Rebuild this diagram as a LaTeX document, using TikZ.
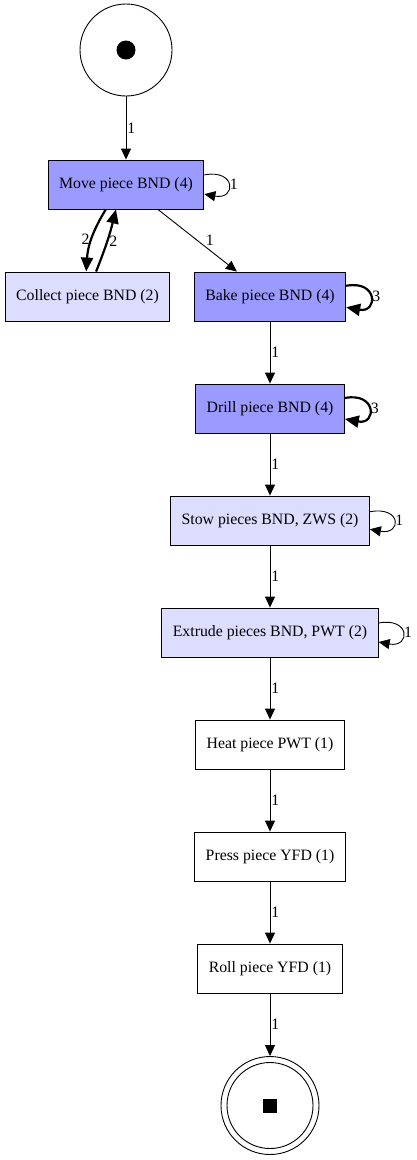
\documentclass[tikz,border=0pt]{standalone}
\usepackage{fontspec}
\setmainfont{Liberation Serif}
\usepackage{tikz}
\usetikzlibrary{arrows.meta,positioning}
\definecolor{freqhigh}{RGB}{155,155,255}
\definecolor{freqlow}{RGB}{221,221,255}

\begin{document}
\begin{tikzpicture}[
  x=1pt,y=1pt,
  font=\fontsize{15.8}{18}\selectfont,
  tbox/.style={draw,rectangle,line width=0.9pt,minimum height=49pt,inner xsep=11pt,inner ysep=0pt},
  arr/.style={-{Triangle[length=11pt,width=10pt]},line width=0.9pt},
  tarr/.style={-{Triangle[length=14pt,width=12pt]},line width=2.2pt},
  lbl/.style={inner sep=1pt,anchor=west},
]
\useasboundingbox (0,0) rectangle (416,-1160);

% places
\node[draw,circle,line width=0.9pt,minimum size=92pt,inner sep=0pt] (start) at (126,-50) {};
\node[circle,fill,minimum size=19pt,inner sep=0pt] (token) at (start.center) {};

\node[draw,circle,line width=0.9pt,minimum size=98pt,inner sep=0pt] (end) at (270,-1105.5) {};
\node[draw,circle,line width=0.9pt,minimum size=86pt,inner sep=0pt] (endin) at (end.center) {};
\node[fill,minimum size=14pt,inner sep=0pt] (stop) at (end.center) {};

% transitions
\node[tbox,fill=freqhigh] (move) at (126,-184.5) {Move piece BND (4)};
\node[tbox,fill=freqlow] (collect) at (87.5,-296.5) {Collect piece BND (2)};
\node[tbox,fill=freqhigh] (bake) at (270,-296.5) {Bake piece BND (4)};
\node[tbox,fill=freqhigh] (drill) at (270,-408.5) {Drill piece BND (4)};
\node[tbox,fill=freqlow] (stow) at (270,-520.5) {Stow pieces BND, ZWS (2)};
\node[tbox,fill=freqlow] (extrude) at (270,-632.5) {Extrude pieces BND, PWT (2)};
\node[tbox,fill=white] (heat) at (270,-744.5) {Heat piece PWT (1)};
\node[tbox,fill=white] (press) at (270,-856.5) {Press piece YFD (1)};
\node[tbox,fill=white] (roll) at (270,-968.5) {Roll piece YFD (1)};

% arcs
\draw[arr] (start) -- node[lbl] {1} (move);
\draw[tarr] (move.-129) to[bend right=14] node[lbl,left=0pt] {2} (collect.93);
\draw[tarr] (collect.71) to[bend right=4] node[lbl] {2} (move.-112);
\draw[arr] (move.-38) -- node[lbl,right=7pt] {1} (bake.143);
\draw[arr] (bake) -- node[lbl] {1} (drill);
\draw[arr] (drill) -- node[lbl] {1} (stow);
\draw[arr] (stow) -- node[lbl] {1} (extrude);
\draw[arr] (extrude) -- node[lbl] {1} (heat);
\draw[arr] (heat) -- node[lbl] {1} (press);
\draw[arr] (press) -- node[lbl] {1} (roll);
\draw[arr] (roll) -- node[lbl] {1} (end);

% self loops
\draw[arr] (move.7) .. controls +(32,6) and +(32,-6) .. node[lbl] {1} (move.-7);
\draw[tarr] (bake.8) .. controls +(32,6) and +(32,-6) .. node[lbl] {3} (bake.-8);
\draw[tarr] (drill.8) .. controls +(32,6) and +(32,-6) .. node[lbl] {3} (drill.-8);
\draw[arr] (stow.5) .. controls +(32,6) and +(32,-6) .. node[lbl] {1} (stow.-5);
\draw[arr] (extrude.5) .. controls +(32,6) and +(32,-6) .. node[lbl] {1} (extrude.-5);

\end{tikzpicture}
\end{document}
